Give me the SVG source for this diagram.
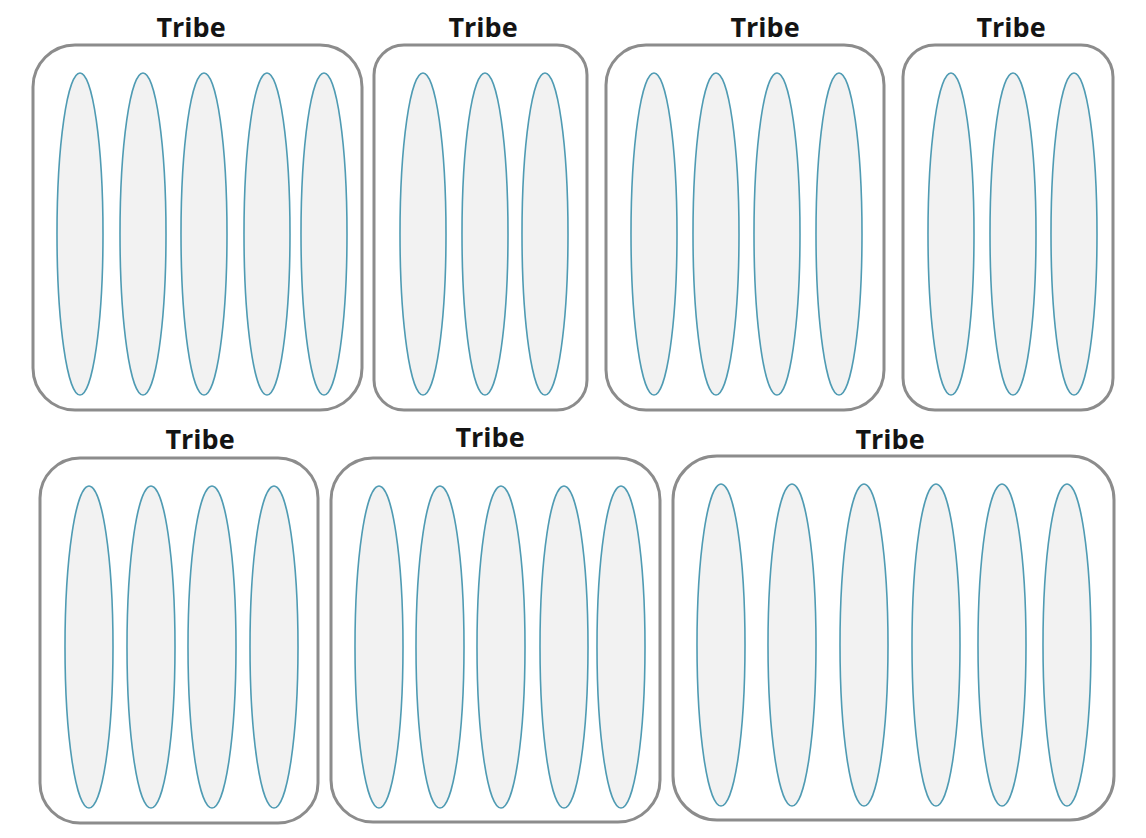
<svg xmlns="http://www.w3.org/2000/svg" width="1146" height="838" viewBox="0 0 1146 838">
<style>
.box{fill:#fff;stroke:#8c8c8c;stroke-width:3}
.lane{fill:#f2f2f2;stroke:#4f9bb3;stroke-width:1.6}
.title{font-family:"Open Sans","Liberation Sans",sans-serif;font-weight:bold;font-size:27px;fill:#141414;text-anchor:middle}
</style>
<rect width="1146" height="838" fill="#fff"/>
<g id="tribe1">
<text class="title" x="191" y="37">Tribe</text>
<rect class="box" x="33" y="45" width="329" height="365" rx="42"/>
<ellipse class="lane" cx="80" cy="234" rx="23" ry="161"/>
<ellipse class="lane" cx="143" cy="234" rx="23" ry="161"/>
<ellipse class="lane" cx="204" cy="234" rx="23" ry="161"/>
<ellipse class="lane" cx="267" cy="234" rx="23" ry="161"/>
<ellipse class="lane" cx="324" cy="234" rx="23" ry="161"/>
</g>
<g id="tribe2">
<text class="title" x="483" y="37">Tribe</text>
<rect class="box" x="374" y="45" width="213" height="365" rx="30"/>
<ellipse class="lane" cx="423" cy="234" rx="23" ry="161"/>
<ellipse class="lane" cx="485" cy="234" rx="23" ry="161"/>
<ellipse class="lane" cx="545" cy="234" rx="23" ry="161"/>
</g>
<g id="tribe3">
<text class="title" x="765" y="37">Tribe</text>
<rect class="box" x="606" y="45" width="278" height="365" rx="40"/>
<ellipse class="lane" cx="654" cy="234" rx="23" ry="161"/>
<ellipse class="lane" cx="716" cy="234" rx="23" ry="161"/>
<ellipse class="lane" cx="777" cy="234" rx="23" ry="161"/>
<ellipse class="lane" cx="839" cy="234" rx="23" ry="161"/>
</g>
<g id="tribe4">
<text class="title" x="1011" y="37">Tribe</text>
<rect class="box" x="903" y="45" width="210" height="365" rx="32"/>
<ellipse class="lane" cx="951" cy="234" rx="23" ry="161"/>
<ellipse class="lane" cx="1013" cy="234" rx="23" ry="161"/>
<ellipse class="lane" cx="1074" cy="234" rx="23" ry="161"/>
</g>
<g id="tribe5">
<text class="title" x="200" y="449">Tribe</text>
<rect class="box" x="40" y="458" width="278" height="365" rx="40"/>
<ellipse class="lane" cx="89" cy="647" rx="24" ry="161"/>
<ellipse class="lane" cx="151" cy="647" rx="24" ry="161"/>
<ellipse class="lane" cx="212" cy="647" rx="24" ry="161"/>
<ellipse class="lane" cx="274" cy="647" rx="24" ry="161"/>
</g>
<g id="tribe6">
<text class="title" x="490" y="447">Tribe</text>
<rect class="box" x="331" y="458" width="329" height="364" rx="42"/>
<ellipse class="lane" cx="379" cy="647" rx="24" ry="161"/>
<ellipse class="lane" cx="440" cy="647" rx="24" ry="161"/>
<ellipse class="lane" cx="501" cy="647" rx="24" ry="161"/>
<ellipse class="lane" cx="564" cy="647" rx="24" ry="161"/>
<ellipse class="lane" cx="621" cy="647" rx="24" ry="161"/>
</g>
<g id="tribe7">
<text class="title" x="890" y="449">Tribe</text>
<rect class="box" x="673" y="456" width="441" height="364" rx="44"/>
<ellipse class="lane" cx="721" cy="645" rx="24" ry="161"/>
<ellipse class="lane" cx="792" cy="645" rx="24" ry="161"/>
<ellipse class="lane" cx="864" cy="645" rx="24" ry="161"/>
<ellipse class="lane" cx="936" cy="645" rx="24" ry="161"/>
<ellipse class="lane" cx="1002" cy="645" rx="24" ry="161"/>
<ellipse class="lane" cx="1067" cy="645" rx="24" ry="161"/>
</g>
<g id="connectors"/>
</svg>
